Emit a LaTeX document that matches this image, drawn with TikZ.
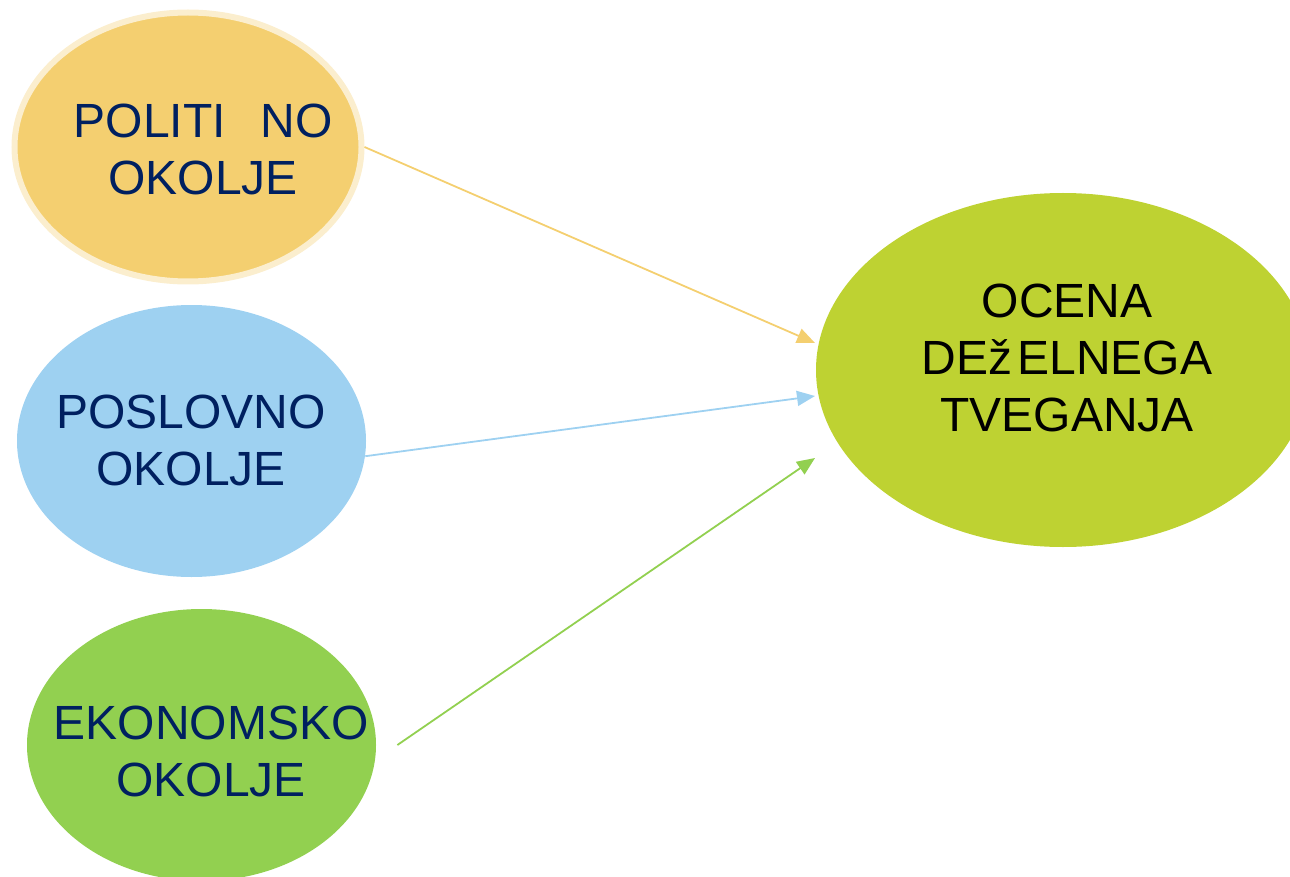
\documentclass[tikz,border=0pt]{standalone}
\usepackage{fontspec}
\setmainfont{Liberation Sans}
\usetikzlibrary{shapes.geometric,arrows.meta}
\definecolor{polfill}{RGB}{244,207,112}
\definecolor{polrim}{RGB}{251,238,206}
\definecolor{posfill}{RGB}{158,209,241}
\definecolor{ekofill}{RGB}{146,208,80}
\definecolor{ocefill}{RGB}{190,210,50}
\definecolor{navy}{RGB}{0,32,96}
\tikzset{
  envnode/.style={ellipse, inner sep=0pt, minimum width=174.5pt, minimum height=136pt},
  envtext/.style={align=center, text=navy, font=\fontsize{24}{28.5}\selectfont},
  arr/.style={-{Triangle[length=9pt,width=7.5pt]}, line width=0.9pt}
}
\begin{document}
\begin{tikzpicture}[x=0.5pt,y=-0.5pt]
\useasboundingbox (0,0) rectangle (1290,877);
\clip (0,0) rectangle (1290,877);

\node[envnode, fill=polfill, draw=polrim, line width=3pt, minimum width=173.5pt, minimum height=134.5pt] (pol) at (188,147) {};
\node[envnode, fill=posfill] (pos) at (191.5,441) {};
\node[envnode, fill=ekofill] (eko) at (201.5,745) {};
\node[envnode, fill=ocefill, minimum width=247pt, minimum height=177pt] (oce) at (1063,370) {};

\node[envtext] (polt) at (203,145) {POLITI\phantom{Č}NO\\OKOLJE};
\node[envtext] (post) at (191,440) {POSLOVNO\\OKOLJE};
\node[envtext] (ekot) at (211,751) {EKONOMSKO\\OKOLJE};
\node[envtext, text=black] (ocet) at (1067,358) {OCENA\\DEž\hspace{0.1em}ELNEGA\\TVEGANJA};

\coordinate (endpol) at (815,343);
\coordinate (endpos) at (815,396);
\coordinate (endeko) at (815,458);

\draw[arr, polfill] (pol.east) -- (endpol);
\draw[arr, posfill] (pos.-5) -- (endpos);
\draw[arr, ekofill] ([xshift=10.5pt]eko.east) -- (endeko);
\end{tikzpicture}
\end{document}
